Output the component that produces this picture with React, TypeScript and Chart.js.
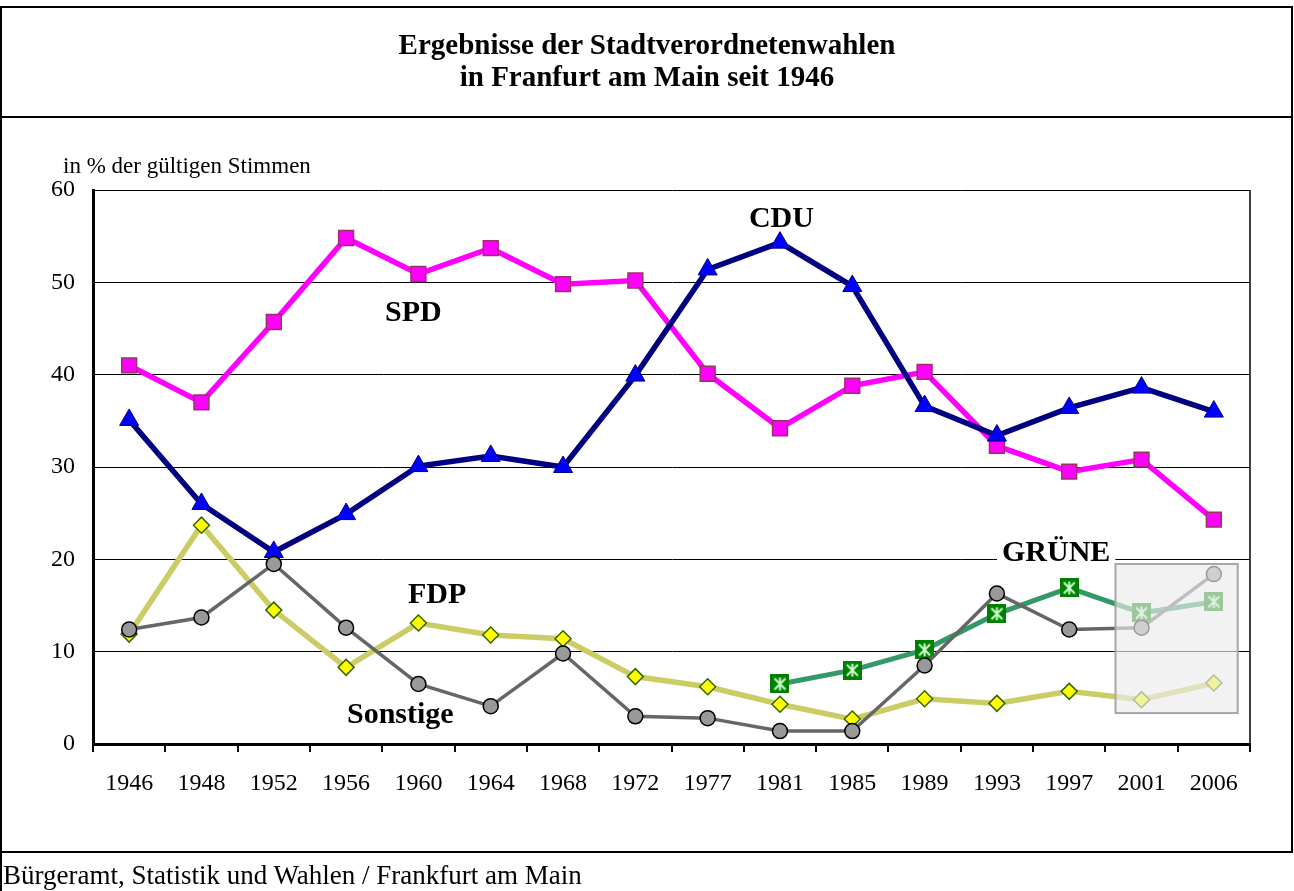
import React, { useEffect, useRef } from "react";
import { Chart, registerables } from "chart.js";

Chart.register(...registerables);

// ---- data ----
const years = ["1946", "1948", "1952", "1956", "1960", "1964", "1968", "1972", "1977", "1981", "1985", "1989", "1993", "1997", "2001", "2006"];
const cdu = [35.1, 26.0, 20.8, 24.9, 30.1, 31.2, 30.0, 39.9, 51.4, 54.3, 49.6, 36.6, 33.4, 36.4, 38.6, 36.0];
const spd = [41.0, 37.0, 45.7, 54.8, 50.9, 53.7, 49.8, 50.2, 40.1, 34.2, 38.8, 40.3, 32.3, 29.5, 30.8, 24.3];
const fdp = [11.9, 23.7, 14.5, 8.3, 13.1, 11.8, 11.4, 7.3, 6.2, 4.3, 2.7, 4.9, 4.4, 5.7, 4.8, 6.6];
const gruene = [null, null, null, null, null, null, null, null, null, 6.5, 8.0, 10.2, 14.1, 16.9, 14.2, 15.4];
const sonstige = [12.4, 13.7, 19.5, 12.6, 6.5, 4.1, 9.8, 3.0, 2.8, 1.4, 1.4, 8.5, 16.3, 12.4, 12.6, 18.4];
const yTicks = [0, 10, 20, 30, 40, 50, 60];

// series labels placed in data space (category index, value)
const labelTexts = ["CDU", "SPD", "FDP", "Sonstige", "GRÜNE"];
const labelIndex = [9.02, 3.93, 4.26, 3.75, 12.82];
const labelValue = [56.85, 46.65, 16.15, 3.15, 20.65];

// shaded box over the last two elections (index range, value range)
const boxIndexRange = [13.64, 15.33];
const boxValueRange = [19.5, 3.35];

const titleLines = ["Ergebnisse der Stadtverordnetenwahlen", "in Franfurt am Main seit 1946"];
const axisCaption = "in % der gültigen Stimmen";
const footerText = "Bürgeramt, Statistik und Wahlen / Frankfurt am Main";

const SERIF = "'Liberation Serif', 'Times New Roman', serif";

export default function App() {
  const ref = useRef<HTMLCanvasElement>(null);

  useEffect(() => {
    const canvas = ref.current;
    if (!canvas) return;

    const star = document.createElement("canvas");
    star.width = 19;
    star.height = 19;
    const sc = star.getContext("2d")!;
    sc.fillStyle = "#008000";
    sc.fillRect(0, 0, 19, 19);
    sc.strokeStyle = "#CCFFCC";
    sc.lineWidth = 2;
    sc.beginPath();
    sc.moveTo(4, 4);
    sc.lineTo(15, 15);
    sc.moveTo(15, 4);
    sc.lineTo(4, 15);
    sc.moveTo(9.5, 3);
    sc.lineTo(9.5, 16);
    sc.stroke();

    const xAt = (chart: any, idx: number) => {
      const s = chart.scales.x;
      const i0 = Math.floor(idx);
      const f = idx - i0;
      const p0 = s.getPixelForValue(i0);
      const p1 = s.getPixelForValue(i0 + 1);
      return p0 + (p1 - p0) * f;
    };

    const decorations = {
      id: "decorations",
      beforeDatasetsDraw(chart: any) {
        const ctx = chart.ctx;
        const area = chart.chartArea;
        const y = chart.scales.y;
        ctx.save();
        // right frame line
        ctx.strokeStyle = "#000";
        ctx.lineWidth = 1.5;
        ctx.beginPath();
        ctx.moveTo(area.right, area.top);
        ctx.lineTo(area.right, area.bottom);
        ctx.stroke();
        // series labels
        ctx.font = `bold 30px ${SERIF}`;
        ctx.textAlign = "center";
        ctx.textBaseline = "middle";
        labelTexts.forEach((t, i) => {
          const px = xAt(chart, labelIndex[i]);
          const py = y.getPixelForValue(labelValue[i]);
          const w = ctx.measureText(t).width;
          ctx.fillStyle = "#fff";
          ctx.fillRect(px - w / 2 - 5, py - 15, w + 10, 30);
          ctx.fillStyle = "#000";
          ctx.fillText(t, px, py);
        });
        ctx.restore();
      },
      afterDatasetsDraw(chart: any) {
        const ctx = chart.ctx;
        const y = chart.scales.y;
        const x0 = xAt(chart, boxIndexRange[0]);
        const x1 = xAt(chart, boxIndexRange[1]);
        const y0 = y.getPixelForValue(boxValueRange[0]);
        const y1 = y.getPixelForValue(boxValueRange[1]);
        ctx.save();
        ctx.fillStyle = "rgba(236,236,236,0.66)";
        ctx.fillRect(x0, y0, x1 - x0, y1 - y0);
        ctx.strokeStyle = "#A6A6A6";
        ctx.lineWidth = 2;
        ctx.strokeRect(x0, y0, x1 - x0, y1 - y0);
        ctx.restore();
      },
    };

    const chart = new Chart(canvas, {
      type: "line",
      data: {
        labels: years,
        datasets: [
          {
            label: "Sonstige",
            data: sonstige,
            borderColor: "#666666",
            borderWidth: 3.5,
            pointStyle: "circle",
            pointRadius: 7.5,
            pointBackgroundColor: "#999999",
            pointBorderColor: "#000",
            pointBorderWidth: 1.5,
          },
          {
            label: "GRÜNE",
            data: gruene,
            borderColor: "#339966",
            borderWidth: 5,
            pointStyle: star as any,
            pointRadius: 9,
          },
          {
            label: "CDU",
            data: cdu,
            borderColor: "#000080",
            borderWidth: 5.5,
            pointStyle: "triangle",
            pointRadius: 11,
            pointBackgroundColor: "#0000FF",
            pointBorderColor: "#000080",
            pointBorderWidth: 1,
          },
          {
            label: "SPD",
            data: spd,
            borderColor: "#FF00FF",
            borderWidth: 5.5,
            pointStyle: "rect",
            pointRadius: 10.5,
            pointBackgroundColor: "#FF00FF",
            pointBorderColor: "#993366",
            pointBorderWidth: 1.5,
          },
          {
            label: "FDP",
            data: fdp,
            borderColor: "#CCCC66",
            borderWidth: 5.5,
            pointStyle: "rectRot",
            pointRadius: 8,
            pointBackgroundColor: "#FFFF00",
            pointBorderColor: "#336600",
            pointBorderWidth: 1.5,
          },
        ],
      },
      options: {
        animation: false,
        responsive: false,
        devicePixelRatio: 1,
        spanGaps: false,
        layout: { padding: { left: 0, top: 190, right: 44, bottom: 87 } },
        plugins: {
          legend: { display: false },
          tooltip: { enabled: false },
          title: { display: false },
        },
        elements: { line: { tension: 0 } },
        scales: {
          x: {
            type: "category",
            offset: true,
            grid: {
              offset: true,
              drawOnChartArea: false,
              drawTicks: true,
              tickLength: 8,
              color: "#000",
              lineWidth: 2,
            },
            border: { color: "#000", width: 3 },
            ticks: {
              color: "#000",
              font: { family: SERIF, size: 24 },
              padding: 17,
              maxRotation: 0,
              autoSkip: false,
            },
            afterFit(scale: any) {
              scale.height = 60;
              scale.paddingLeft = 0;
              scale.paddingRight = 0;
            },
          },
          y: {
            min: 0,
            max: 60,
            afterBuildTicks(scale: any) {
              scale.ticks = yTicks.map((v) => ({ value: v }));
            },
            grid: { color: "#000", lineWidth: 1, drawTicks: false },
            border: { color: "#000", width: 3 },
            ticks: {
              color: "#000",
              font: { family: SERIF, size: 24 },
              padding: 18,
            },
            afterFit(scale: any) {
              scale.width = 93;
              scale.paddingTop = 0;
              scale.paddingBottom = 0;
            },
          },
        },
      },
      plugins: [decorations],
    });

    return () => chart.destroy();
  }, []);

  return (
    <div style={{ position: "absolute", left: 0, top: 0, width: 1294, height: 891, background: "#fff", overflow: "hidden" }}>
      <canvas ref={ref} width={1294} height={891} style={{ position: "absolute", left: 0, top: 0, width: 1294, height: 891 }} />
      {/* frame */}
      <div style={{ position: "absolute", left: 0, top: 6, width: 1293, height: 847, border: "2px solid #000", boxSizing: "border-box" }} />
      <div style={{ position: "absolute", left: 0, top: 116, width: 1293, height: 2, background: "#000" }} />
      <div style={{ position: "absolute", left: 0, top: 850, width: 2, height: 41, background: "#000" }} />
      {/* title */}
      <div style={{ position: "absolute", left: 0, top: 28, width: 1294, textAlign: "center", fontFamily: SERIF, fontWeight: "bold", fontSize: 29, lineHeight: "32px", color: "#000" }}>
        {titleLines.map((l, i) => (
          <div key={i}>{l}</div>
        ))}
      </div>
      {/* axis caption */}
      <div style={{ position: "absolute", left: 63, top: 154, fontFamily: SERIF, fontSize: 23, lineHeight: "24px", color: "#000", whiteSpace: "nowrap" }}>
        {axisCaption}
      </div>
      {/* footer */}
      <div style={{ position: "absolute", left: 3, top: 861, fontFamily: SERIF, fontSize: 27, lineHeight: "28px", color: "#000", whiteSpace: "nowrap" }}>
        {footerText}
      </div>
    </div>
  );
}
